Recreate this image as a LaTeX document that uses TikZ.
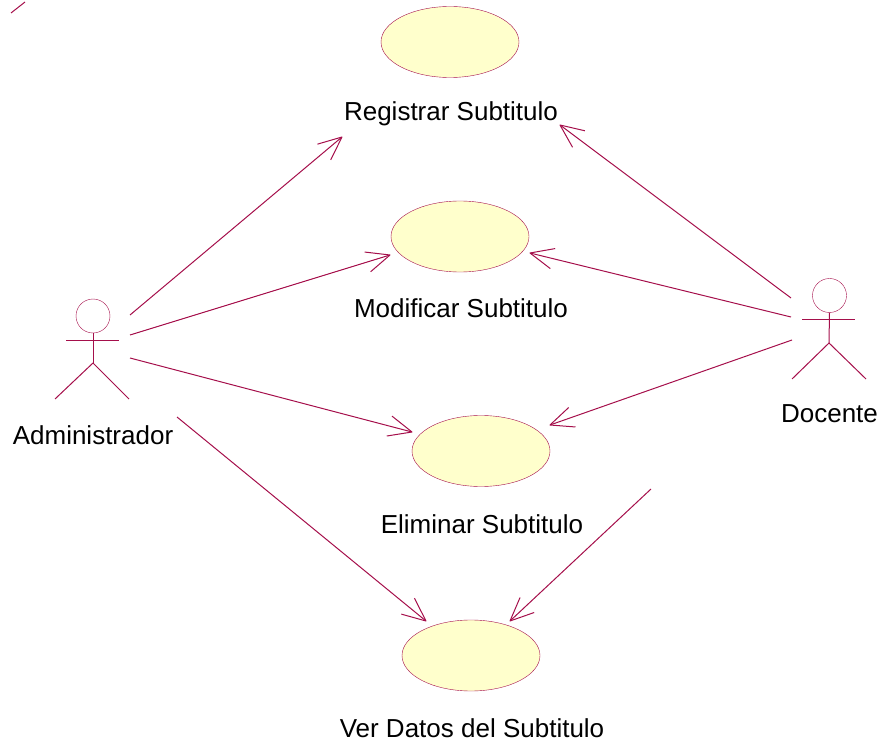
\documentclass[tikz,border=0pt]{standalone}
\usepackage{fontspec}
\setmainfont{Liberation Sans}
\usetikzlibrary{arrows.meta,shapes.geometric}
\definecolor{rosered}{RGB}{165,15,75}
\definecolor{rosefill}{RGB}{255,255,204}
\pgfdeclarearrow{
  name=openbarb,
  parameters={\the\pgflinewidth},
  setup code={\pgfarrowssettipend{0pt}\pgfarrowssetlineend{-0.5\pgflinewidth}\pgfarrowssetvisualbackend{-23.4pt}\pgfarrowssetbackend{-23.4pt}},
  drawing code={
    \pgfsetroundjoin
    \pgfpathmoveto{\pgfqpoint{-23.4pt}{10.3pt}}
    \pgfpathlineto{\pgfqpoint{0pt}{0pt}}
    \pgfpathlineto{\pgfqpoint{-23.4pt}{-10.3pt}}
    \pgfusepathqstroke
  }
}
\tikzset{
  usecase/.style={draw=rosered,fill=rosefill,ellipse,inner sep=0pt,minimum width=138pt,minimum height=71pt},
  head/.style={draw=rosered,circle,inner sep=0pt,minimum size=34pt},
  limb/.style={draw=rosered,line width=1pt},
  assoc/.style={draw=rosered,line width=1pt,-openbarb},
  lbl/.style={inner sep=0pt,font=\fontsize{26}{30}\selectfont}
}
\begin{document}
\begin{tikzpicture}[x=1pt,y=-1pt]
    \useasboundingbox (0,0) rectangle (881,743);
    \node[usecase] (reg) at (450,42) {};
    \node[usecase] (mod) at (460,236.5) {};
    \node[usecase] (eli) at (481,451) {};
    \node[usecase] (ver) at (471,655.5) {};
    \node[lbl] (regl) at (451,114) {Registrar Subtitulo};
    \node[lbl] (modl) at (461,308) {Modificar Subtitulo};
    \node[lbl] (elil) at (482,524) {Eliminar Subtitulo};
    \node[lbl] (verl) at (472,728) {Ver Datos del Subtitulo};
    \node[lbl] (adml) at (93,435) {Administrador};
    \node[lbl] (docl) at (829.5,414) {Docente};
    % actors
    \node[head] (admh) at (93,316) {};
    \coordinate (admb) at (93,363);
    \coordinate (admal) at (66,341);
    \coordinate (admar) at (119,341);
    \coordinate (admfl) at (55,399);
    \coordinate (admfr) at (129,399);
    \draw[limb] (admh.south) -- (admb);
    \draw[limb] (admal) -- (admar);
    \draw[limb] (admfl) -- (admb) -- (admfr);
    \node[head] (doch) at (829.5,295.5) {};
    \coordinate (docb) at (829,343);
    \coordinate (docal) at (802,320);
    \coordinate (docar) at (855,320);
    \coordinate (docfl) at (792,379);
    \coordinate (docfr) at (866,379);
    \draw[limb] (doch.south) -- (docb);
    \draw[limb] (docal) -- (docar);
    \draw[limb] (docfl) -- (docb) -- (docfr);
    % associations
    \coordinate (a1) at (130,315);
    \coordinate (a1e) at (342,137);
    \coordinate (a2) at (130,335);
    \coordinate (a2e) at (390,255);
    \coordinate (a3) at (130,358);
    \coordinate (a3e) at (412,432);
    \coordinate (a4) at (177,417);
    \coordinate (a4e) at (426,621);
    \coordinate (d1) at (791,298);
    \coordinate (d1e) at (560,125);
    \coordinate (d2) at (791,317);
    \coordinate (d2e) at (530,253);
    \coordinate (d3) at (792,340);
    \coordinate (d3e) at (550,425);
    \coordinate (d4) at (651,489);
    \coordinate (d4e) at (510,621);
    \draw[assoc] (a1) -- (a1e);
    \draw[assoc] (a2) -- (a2e);
    \draw[assoc] (a3) -- (a3e);
    \draw[assoc] (a4) -- (a4e);
    \draw[assoc] (d1) -- (d1e);
    \draw[assoc] (d2) -- (d2e);
    \draw[assoc] (d3) -- (d3e);
    \draw[assoc] (d4) -- (d4e);
    % stray tick
    \coordinate (t1) at (11,13);
    \coordinate (t2) at (25,2);
    \draw[limb] (t1) -- (t2);
  \end{tikzpicture}
\end{document}
